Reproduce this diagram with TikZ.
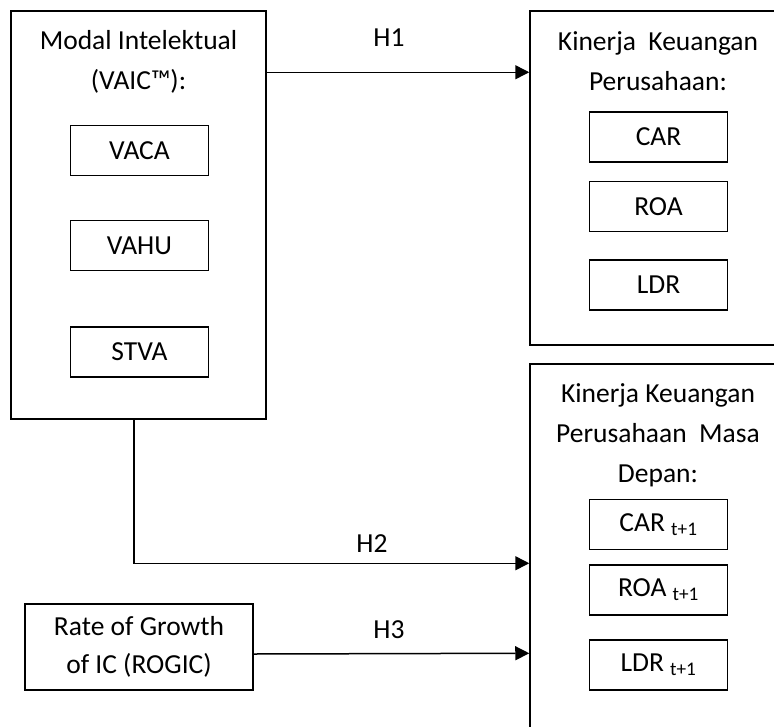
\documentclass[tikz,border=0pt]{standalone}
\usepackage{fontspec}
\setmainfont{Carlito}
\usetikzlibrary{arrows.meta}

\begin{document}
\begin{tikzpicture}[x=1pt,y=-1pt,
  every node/.style={font=\fontsize{27.5}{40}\selectfont},
  outer/.style={draw, line width=1.5pt, inner sep=0pt},
  inbox/.style={draw, line width=1.5pt, minimum width=138pt, minimum height=50pt, inner sep=0pt},
  title/.style={align=center},
  arr/.style={line width=1.5pt, -{Triangle[length=14pt,width=14pt]}}]
\clip (0,0) rectangle (774,726);
% left block
\node[outer, minimum width=255pt, minimum height=408pt] (modal) at (138.5,215) {};
\node[title] (modaltitle) at (138.5,62) {Modal Intelektual\\(VAIC™):};
\node[inbox] (vaca) at (139.5,150.5) {VACA};
\node[inbox] (vahu) at (139.5,245.5) {VAHU};
\node[inbox] (stva) at (139.5,352) {STVA};
% upper right block
\node[outer, minimum width=300pt, minimum height=334pt] (kinerja) at (680,178) {};
\node[title] (kinerjatitle) at (658,61) {Kinerja\ \ Keuangan\\Perusahaan:};
\node[inbox] (car) at (658.5,137) {CAR};
\node[inbox] (roa) at (658.5,206.5) {ROA};
\node[inbox] (ldr) at (658.5,285) {LDR};
% lower right block
\node[outer, minimum width=300pt, minimum height=400pt] (depan) at (680,564) {};
\node[title] (depantitle) at (658,435) {Kinerja Keuangan\\Perusahaan\ \ Masa\\Depan:};
\node[inbox] (cart) at (658.5,524.5) {CAR \textsubscript{t+1}};
\node[inbox] (roat) at (658.5,590) {ROA \textsubscript{t+1}};
\node[inbox] (ldrt) at (658.5,665) {LDR \textsubscript{t+1}};
% rogic
\node[outer, minimum width=228pt, minimum height=86pt, align=center,
  font=\fontsize{27.5}{38}\selectfont] (rogic) at (139,647) {Rate of Growth\\of IC (ROGIC)};
% arrows
\draw[arr] ([yshift=-62pt]modal.north east) -- ([yshift=-62pt]kinerja.north west);
\draw[arr] ([xshift=-4.5pt]modal.south) |- ([yshift=-200pt]depan.north west);
\draw[arr] ([yshift=-7pt]rogic.east) -- ([yshift=-290pt]depan.north west);
\node (h1) at (389,38) {H1};
\node (h2) at (372,544) {H2};
\node (h3) at (389,630) {H3};
\end{tikzpicture}
\end{document}
